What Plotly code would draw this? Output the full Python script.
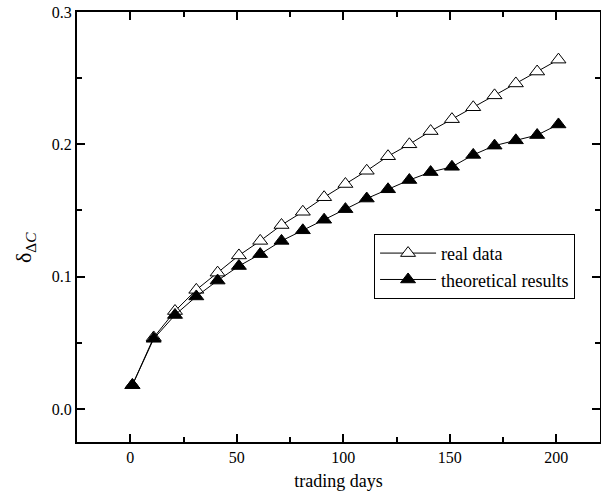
import plotly.graph_objects as go

days = [1, 11, 21, 31, 41, 51, 61, 71, 81, 91, 101, 111, 121, 131, 141, 151, 161, 171, 181, 191, 201]
real_data = [0.018, 0.054, 0.074, 0.090, 0.103, 0.116, 0.127, 0.139, 0.149, 0.160, 0.170, 0.180,
             0.191, 0.200, 0.210, 0.219, 0.228, 0.237, 0.246, 0.255, 0.264]
theoretical = [0.018, 0.053, 0.071, 0.085, 0.097, 0.108, 0.117, 0.127, 0.135, 0.143, 0.151, 0.159,
               0.166, 0.173, 0.179, 0.183, 0.192, 0.199, 0.203, 0.207, 0.215]

FONT = "Liberation Serif"

fig = go.Figure()
fig.add_trace(go.Scatter(
    x=days, y=real_data, name="real data", mode="lines+markers",
    line=dict(color="black", width=1),
    marker=dict(symbol="triangle-up", size=13, color="white", line=dict(color="black", width=1)),
))
fig.add_trace(go.Scatter(
    x=days, y=theoretical, name="theoretical results", mode="lines+markers",
    line=dict(color="black", width=1),
    marker=dict(symbol="triangle-up", size=13, color="black", line=dict(color="black", width=1)),
))

axis_common = dict(
    showline=True, linecolor="black", linewidth=2, mirror="ticks",
    ticks="inside", ticklen=8, tickwidth=2, tickcolor="black",
    showgrid=False, zeroline=False, automargin=False,
    tickfont=dict(family=FONT, size=16, color="black"),
)

fig.update_xaxes(
    range=[-25, 220.5], tickvals=[0, 50, 100, 150, 200],
    minor=dict(tickvals=[-25, 25, 75, 125, 175], ticks="inside", ticklen=5, tickwidth=2, tickcolor="black"),
    title=dict(text="trading days", font=dict(family=FONT, size=18, color="black"), standoff=9),
    **axis_common,
)
fig.update_yaxes(
    range=[-0.025, 0.3], tickvals=[0.0, 0.1, 0.2, 0.3], tickformat=".1f",
    minor=dict(tickvals=[0.05, 0.15, 0.25], ticks="inside", ticklen=5, tickwidth=2, tickcolor="black"),
    **axis_common,
)

fig.add_annotation(
    text="δ<sub>Δ<i>C</i></sub>", textangle=-90, showarrow=False,
    xref="paper", yref="paper", x=-0.0994, y=0.451, xanchor="center", yanchor="middle",
    font=dict(family=FONT, size=22, color="black"),
)

fig.update_layout(
    width=601, height=500,
    margin=dict(l=77, r=1, t=12, b=58),
    plot_bgcolor="white", paper_bgcolor="white",
    font=dict(family=FONT, color="black"),
    legend=dict(
        x=0.568, y=0.484, xanchor="left", yanchor="top",
        bordercolor="black", borderwidth=1, bgcolor="white",
        font=dict(family=FONT, size=18, color="black"),
        tracegroupgap=0, itemwidth=56,
    ),
)

fig.write_html(
    "out.html",
    config={"displayModeBar": False},
    post_script="document.body.style.margin='0';document.body.style.overflow='hidden';",
)
